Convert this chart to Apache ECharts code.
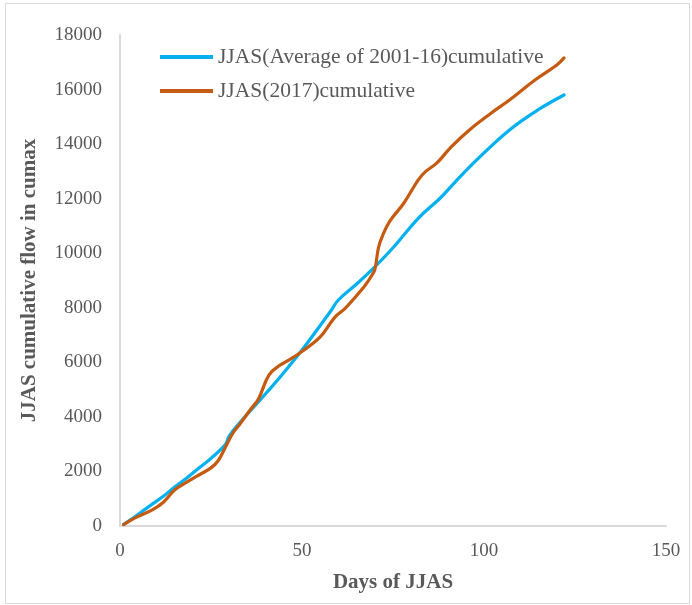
<!DOCTYPE html>
<html><head><meta charset="utf-8">
<script src="https://cdn.jsdelivr.net/npm/echarts@6/dist/echarts.min.js"></script>
<style>html,body{margin:0;padding:0;background:#fff}#c{width:692px;height:605px}</style>
</head><body><div id="c"></div>
<script>
var avgDays = [1, 4, 8, 12, 15, 18, 21, 25, 29, 30, 33, 37, 40, 44, 50, 55, 58, 60, 65, 70, 75, 82, 88, 92, 98, 107, 115, 122];
var avgVals = [60, 330, 720, 1100, 1430, 1720, 2050, 2480, 3000, 3300, 3800, 4400, 4850, 5460, 6450, 7350, 7900, 8285, 8870, 9500, 10200, 11290, 12025, 12600, 13420, 14520, 15270, 15800];
var yrDays = [1, 4, 9, 12, 15, 18, 21, 25, 27, 29, 31, 33, 36, 38, 41, 44, 46, 50, 55, 59, 62, 67, 69, 70, 71, 72, 74, 78, 82, 84, 87, 91, 96, 102, 107, 114, 120, 122];
var yrVals = [50, 290, 600, 880, 1320, 1580, 1820, 2130, 2400, 2900, 3400, 3750, 4300, 4650, 5550, 5900, 6050, 6400, 6930, 7650, 8000, 8760, 9150, 9400, 10200, 10600, 11150, 11840, 12700, 13000, 13300, 13900, 14520, 15140, 15620, 16350, 16900, 17160];
var xTicks = [0, 50, 100, 150];
var yTicks = [0, 2000, 4000, 6000, 8000, 10000, 12000, 14000, 16000, 18000];
var names = ['JJAS(Average of 2001-16)cumulative', 'JJAS(2017)cumulative'];

function pairs(d, v) { return d.map(function (x, i) { return [x, v[i]]; }); }
var font = 'Liberation Serif, Times New Roman, serif';
var chart = echarts.init(document.getElementById('c'), null, { renderer: 'canvas' });
chart.setOption({
  animation: false,
  backgroundColor: '#fff',
  graphic: [{ type: 'rect', shape: { x: 5.5, y: 3.5, width: 684, height: 600 }, style: { fill: 'none', stroke: '#d9d9d9', lineWidth: 1 }, silent: true }],
  grid: { left: 120, right: 26, top: 35, bottom: 79 },
  legend: {
    orient: 'vertical', left: 160, top: 46, padding: 0, itemWidth: 53, itemHeight: 4, itemGap: 12,
    icon: 'rect',
    textStyle: { fontFamily: font, fontSize: 21.5, color: '#595959', padding: [0, 0, 0, 0] },
    data: names
  },
  xAxis: {
    type: 'value', min: xTicks[0], max: xTicks[xTicks.length - 1], interval: 50,
    name: 'Days of JJAS', nameLocation: 'middle', nameGap: 46,
    nameTextStyle: { fontFamily: font, fontSize: 21, fontWeight: 'bold', color: '#595959' },
    axisLine: { lineStyle: { color: '#d9d9d9', width: 2 } },
    axisTick: { show: false },
    splitLine: { show: false },
    axisLabel: { fontFamily: font, fontSize: 19, color: '#595959', margin: 16 }
  },
  yAxis: {
    type: 'value', min: yTicks[0], max: yTicks[yTicks.length - 1], interval: 2000,
    name: 'JJAS cumulative flow in cumax', nameLocation: 'middle', nameGap: 80,
    nameTextStyle: { fontFamily: font, fontSize: 21, fontWeight: 'bold', color: '#595959' },
    axisLine: { show: true, lineStyle: { color: '#d9d9d9', width: 2 } },
    axisTick: { show: false },
    splitLine: { show: false },
    axisLabel: { fontFamily: font, fontSize: 19, color: '#595959', margin: 18, formatter: function (v) { return String(v); } }
  },
  series: [
    { name: names[0], type: 'line', data: pairs(avgDays, avgVals), smooth: 0.4, showSymbol: false, symbol: 'none',
      lineStyle: { color: '#00b0f0', width: 3.2, cap: 'round' }, itemStyle: { color: '#00b0f0' } },
    { name: names[1], type: 'line', data: pairs(yrDays, yrVals), smooth: 0.4, showSymbol: false, symbol: 'none',
      lineStyle: { color: '#c55a11', width: 3.2, cap: 'round' }, itemStyle: { color: '#c55a11' } }
  ]
});
</script></body></html>
